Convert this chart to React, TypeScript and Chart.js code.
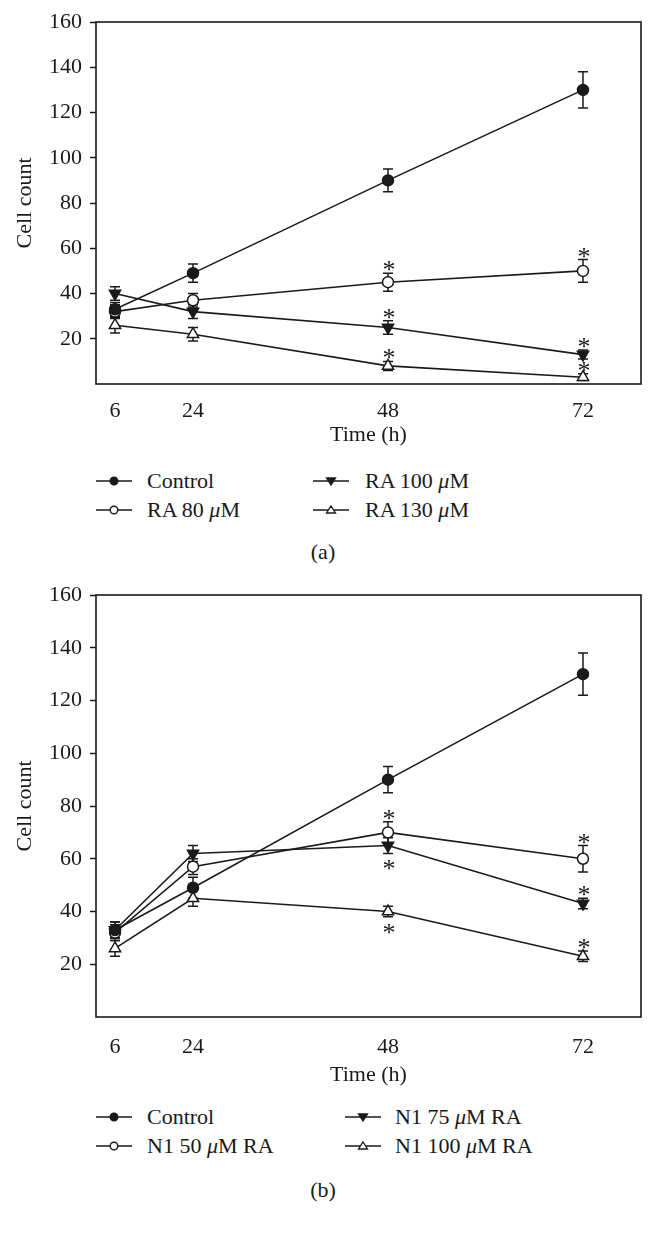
import React, { useEffect, useRef } from 'react';
import { Chart, registerables, LinearScale } from 'chart.js';

// ---------- data ----------
const timePoints = [6, 24, 48, 72];
const yMax = 160;
const yStep = 20;

// panel (a)
const controlA = [33, 49, 90, 130];
const controlAErr = [3, 4, 5, 8];
const ra80 = [32, 37, 45, 50];
const ra80Err = [3, 3, 4, 5];
const ra80Sig = [0, 0, 1, 1];
const ra100 = [40, 32, 25, 13];
const ra100Err = [3, 3, 3, 2];
const ra100Sig = [0, 0, 1, 1];
const ra130 = [26, 22, 8, 3];
const ra130Err = [3.5, 3, 2, 1.5];
const ra130Sig = [0, 0, 1, 1];

// panel (b)
const controlB = [33, 49, 90, 130];
const controlBErr = [3, 4, 5, 8];
const n1_50 = [32, 57, 70, 60];
const n1_50Err = [3, 3, 4, 5];
const n1_50Sig = [0, 0, 1, 1];
const n1_75 = [33, 62, 65, 43];
const n1_75Err = [3, 3, 3, 2];
const n1_75Sig = [0, 0, -1, 1];
const n1_100 = [26, 45, 40, 23];
const n1_100Err = [3, 3, 2, 2];
const n1_100Sig = [0, 0, -1, 1];

const labelsA = ['Control', 'RA 80 μM', 'RA 100 μM', 'RA 130 μM'];
const labelsB = ['Control', 'N1 50 μM RA', 'N1 75 μM RA', 'N1 100 μM RA'];

// ---------- style ----------
const FONT = '"Liberation Serif", "Times New Roman", serif';
const INK = '#1a1a1a';
const FS = 22;
const AST = 26;

// x axis: the 6–24 h segment is drawn compressed (as in the source figure)
class SplitTimeScale extends LinearScale {
  static id = 'splitTime';
  static defaults = LinearScale.defaults;
  getPixelForValue(value: number) {
    const v = value < 24 ? 24 - (24 - value) * 0.5333 : value;
    return super.getPixelForValue(v);
  }
}
Chart.register(...registerables, SplitTimeScale as any);

type Marker = 'fcircle' | 'ocircle' | 'ftri' | 'otri';

const markerProps = (m: Marker) => {
  switch (m) {
    case 'fcircle':
      return { pointStyle: 'circle', pointRadius: 5.5, pointRotation: 0, pointBackgroundColor: INK };
    case 'ocircle':
      return { pointStyle: 'circle', pointRadius: 5.5, pointRotation: 0, pointBackgroundColor: '#ffffff' };
    case 'ftri':
      return { pointStyle: 'triangle', pointRadius: 6.5, pointRotation: 180, pointBackgroundColor: INK };
    case 'otri':
      return { pointStyle: 'triangle', pointRadius: 6.5, pointRotation: 0, pointBackgroundColor: '#ffffff' };
  }
};

const makeDataset = (label: string, vals: number[], err: number[], sig: number[], m: Marker) => ({
  label,
  data: timePoints.map((t, i) => ({ x: t, y: vals[i] })),
  err,
  sig,
  borderColor: INK,
  borderWidth: 1.6,
  pointBorderColor: INK,
  pointBorderWidth: 1.5,
  tension: 0,
  clip: false,
  ...markerProps(m),
});

const frameAndErrors = {
  id: 'frameAndErrors',
  beforeDatasetsDraw(chart: any) {
    const { ctx, chartArea: a, scales } = chart;
    const x = scales.x;
    const y = scales.y;
    ctx.save();
    ctx.strokeStyle = INK;
    ctx.lineWidth = 1.6;
    ctx.strokeRect(a.left, a.top, a.right - a.left, a.bottom - a.top);
    ctx.lineWidth = 1.5;
    chart.data.datasets.forEach((ds: any) => {
      ds.data.forEach((p: any, i: number) => {
        const e = ds.err[i];
        const px = x.getPixelForValue(p.x);
        const top = y.getPixelForValue(p.y + e);
        const bot = y.getPixelForValue(p.y - e);
        ctx.beginPath();
        ctx.moveTo(px, top);
        ctx.lineTo(px, bot);
        ctx.moveTo(px - 5, top);
        ctx.lineTo(px + 5, top);
        ctx.moveTo(px - 5, bot);
        ctx.lineTo(px + 5, bot);
        ctx.stroke();
      });
    });
    ctx.restore();
  },
  afterDatasetsDraw(chart: any) {
    const { ctx, scales } = chart;
    const x = scales.x;
    const y = scales.y;
    ctx.save();
    ctx.fillStyle = INK;
    ctx.font = `${AST}px ${FONT}`;
    ctx.textAlign = 'center';
    ctx.textBaseline = 'alphabetic';
    chart.data.datasets.forEach((ds: any) => {
      ds.data.forEach((p: any, i: number) => {
        const s = ds.sig[i];
        if (!s) return;
        const e = ds.err[i];
        const px = x.getPixelForValue(p.x);
        if (s > 0) {
          const top = y.getPixelForValue(p.y + e);
          ctx.fillText('*', px + 1, top + 5);
        } else {
          const bot = y.getPixelForValue(p.y - e);
          ctx.fillText('*', px + 1, bot + 24);
        }
      });
    });
    ctx.restore();
  },
};

type PanelProps = {
  top: number;
  height: number;
  padTop: number;
  padBottom: number;
  xAxisHeight: number;
  xTickPad: number;
  datasets: any[];
};

function Panel({ top, height, padTop, padBottom, xAxisHeight, xTickPad, datasets }: PanelProps) {
  const ref = useRef<HTMLCanvasElement | null>(null);
  useEffect(() => {
    if (!ref.current) return;
    const chart = new Chart(ref.current, {
      type: 'line',
      data: { datasets },
      plugins: [frameAndErrors],
      options: {
        animation: false,
        responsive: false,
        maintainAspectRatio: false,
        layout: { padding: { top: padTop, bottom: padBottom, left: 0, right: 15 } },
        plugins: { legend: { display: false }, tooltip: { enabled: false } },
        scales: {
          x: {
            type: 'splitTime' as any,
            min: 12.06,
            max: 79.14,
            afterBuildTicks: (s: any) => {
              s.ticks = timePoints.map((v) => ({ value: v }));
            },
            afterFit: (s: any) => {
              s.height = xAxisHeight;
            },
            grid: { display: false },
            border: { display: false },
            ticks: {
              padding: xTickPad,
              maxRotation: 0,
              autoSkip: false,
              color: INK,
              font: { family: FONT, size: FS },
              callback: (v: any) => String(v),
            },
            title: {
              display: true,
              text: 'Time (h)',
              color: INK,
              font: { family: FONT, size: FS },
              padding: { top: 0, bottom: 0 },
            },
          },
          y: {
            type: 'linear',
            min: 0,
            max: yMax,
            afterFit: (s: any) => {
              s.width = 96;
            },
            grid: {
              drawOnChartArea: false,
              drawTicks: true,
              tickLength: 6,
              tickWidth: 1.5,
              tickColor: (c: any) => (c.tick && c.tick.value === 0 ? 'rgba(0,0,0,0)' : INK),
            },
            border: { display: false },
            ticks: {
              stepSize: yStep,
              padding: 8,
              color: INK,
              font: { family: FONT, size: FS },
              callback: (v: any) => (v === 0 ? '' : String(v)),
            },
            title: {
              display: true,
              text: 'Cell count',
              color: INK,
              font: { family: FONT, size: FS },
              padding: { top: 12, bottom: 0 },
            },
          },
        },
      } as any,
    });
    return () => chart.destroy();
  }, []);
  return (
    <canvas
      ref={ref}
      width={656}
      height={height}
      style={{ position: 'absolute', left: 0, top, width: 656, height }}
    />
  );
}

function Sym({ m }: { m: Marker }) {
  const fill = m === 'fcircle' || m === 'ftri' ? INK : '#fff';
  let mark;
  if (m === 'fcircle' || m === 'ocircle') {
    mark = <circle cx={18} cy={8} r={3.8} fill={fill} stroke={INK} strokeWidth={1.4} />;
  } else if (m === 'ftri') {
    mark = <polygon points="13.5,5 22.5,5 18,12" fill={fill} stroke={INK} strokeWidth={1.3} />;
  } else {
    mark = <polygon points="13.5,11 22.5,11 18,4" fill={fill} stroke={INK} strokeWidth={1.3} />;
  }
  return (
    <svg width={36} height={16} style={{ display: 'block' }}>
      <line x1={0} y1={8} x2={36} y2={8} stroke={INK} strokeWidth={1.6} />
      {mark}
    </svg>
  );
}

function LegendItem({ x, textX, y, m, label }: { x: number; textX: number; y: number; m: Marker; label: string }) {
  const parts = label.split('μ');
  return (
    <div
      style={{
        position: 'absolute',
        left: x,
        top: y - 15,
        height: 30,
        display: 'flex',
        alignItems: 'center',
        fontFamily: FONT,
        fontSize: FS,
        color: INK,
        whiteSpace: 'nowrap',
      }}
    >
      <Sym m={m} />
      <span style={{ marginLeft: textX - x - 36 }}>
        {parts.length > 1 ? (
          <>
            {parts[0]}
            <i>μ</i>
            {parts[1]}
          </>
        ) : (
          label
        )}
      </span>
    </div>
  );
}

function Caption({ y, text }: { y: number; text: string }) {
  return (
    <div
      style={{
        position: 'absolute',
        left: 323,
        top: y - 14,
        transform: 'translateX(-50%)',
        fontFamily: FONT,
        fontSize: FS,
        color: INK,
        lineHeight: '28px',
      }}
    >
      {text}
    </div>
  );
}

export default function App() {
  const markers: Marker[] = ['fcircle', 'ocircle', 'ftri', 'otri'];
  const dsA = [
    makeDataset(labelsA[0], controlA, controlAErr, [0, 0, 0, 0], 'fcircle'),
    makeDataset(labelsA[1], ra80, ra80Err, ra80Sig, 'ocircle'),
    makeDataset(labelsA[2], ra100, ra100Err, ra100Sig, 'ftri'),
    makeDataset(labelsA[3], ra130, ra130Err, ra130Sig, 'otri'),
  ];
  const dsB = [
    makeDataset(labelsB[0], controlB, controlBErr, [0, 0, 0, 0], 'fcircle'),
    makeDataset(labelsB[1], n1_50, n1_50Err, n1_50Sig, 'ocircle'),
    makeDataset(labelsB[2], n1_75, n1_75Err, n1_75Sig, 'ftri'),
    makeDataset(labelsB[3], n1_100, n1_100Err, n1_100Sig, 'otri'),
  ];
  return (
    <div style={{ position: 'relative', width: 656, height: 1233, margin: -8, background: '#fff' }}>
      <Panel top={0} height={460} padTop={22} padBottom={12} xAxisHeight={64} xTickPad={6} datasets={dsA} />
      <LegendItem x={96} textX={147} y={481} m={markers[0]} label={labelsA[0]} />
      <LegendItem x={96} textX={147} y={510} m={markers[1]} label={labelsA[1]} />
      <LegendItem x={313} textX={365} y={481} m={markers[2]} label={labelsA[2]} />
      <LegendItem x={313} textX={365} y={510} m={markers[3]} label={labelsA[3]} />
      <Caption y={552} text="(a)" />

      <Panel top={570} height={530} padTop={25} padBottom={12} xAxisHeight={71} xTickPad={9} datasets={dsB} />
      <LegendItem x={96} textX={147} y={1117} m={markers[0]} label={labelsB[0]} />
      <LegendItem x={96} textX={147} y={1146} m={markers[1]} label={labelsB[1]} />
      <LegendItem x={345} textX={395} y={1117} m={markers[2]} label={labelsB[2]} />
      <LegendItem x={345} textX={395} y={1146} m={markers[3]} label={labelsB[3]} />
      <Caption y={1190} text="(b)" />
    </div>
  );
}
